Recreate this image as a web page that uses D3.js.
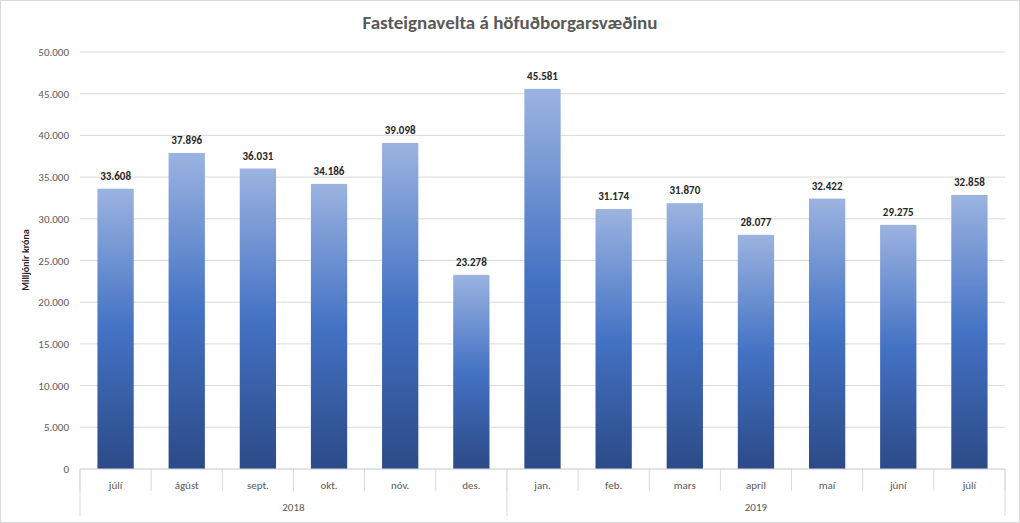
<!DOCTYPE html>
<html><head><meta charset="utf-8">
<script src="https://cdn.jsdelivr.net/npm/d3@7"></script>
<style>body{margin:0;background:#fff;font-family:Calibri,Carlito,"Liberation Sans",sans-serif}</style>
</head><body>
<svg width="1020" height="523"></svg>
<script>
const months = ["júlí","ágúst","sept.","okt.","nóv.","des.","jan.","feb.","mars","apríl","maí","júní","júlí"];
const years = ["2018","2019"];
const yearSpan = [6, 7];
const values = [33608,37896,36031,34186,39098,23278,45581,31174,31870,28077,32422,29275,32858];
const yTicks = d3.range(0, 50001, 5000);

const svg = d3.select("svg");
const mLeft = 80, mRight = 1005, mTop = 52, mBottom = 469;
svg.append("rect").attr("x",0.5).attr("y",0.5).attr("width",1019).attr("height",522)
  .attr("fill","#fff").attr("stroke","#d9d9d9");

const defs = svg.append("defs");
const g = defs.append("linearGradient").attr("id","bg").attr("x1",0).attr("y1",0).attr("x2",0).attr("y2",1);
g.append("stop").attr("offset","0%").attr("stop-color","#9bb3e0");
g.append("stop").attr("offset","50%").attr("stop-color","#4472c4");
g.append("stop").attr("offset","100%").attr("stop-color","#2c4a87");

const x = d3.scaleBand().domain(d3.range(months.length)).range([mLeft, mRight]).paddingInner(0.49).paddingOuter(0.245);
const y = d3.scaleLinear().domain([0, 50000]).range([mBottom, mTop]);
const fmt = v => d3.format(",")(v).replace(/,/g, ".");

svg.append("g").selectAll("line").data(yTicks).join("line")
  .attr("x1", mLeft).attr("x2", mRight).attr("y1", d => y(d)).attr("y2", d => y(d))
  .attr("stroke", "#d9d9d9");
svg.append("g").selectAll("text").data(yTicks).join("text")
  .attr("x", 69).attr("y", d => y(d) + 4).attr("text-anchor","end")
  .attr("font-size", 11).attr("fill","#595959").text(fmt);

svg.append("g").selectAll("rect").data(values).join("rect")
  .attr("x", (d,i) => x(i)).attr("width", x.bandwidth())
  .attr("y", d => y(d)).attr("height", d => mBottom - y(d))
  .attr("fill", "url(#bg)");
svg.append("g").selectAll("text").data(values).join("text")
  .attr("x", (d,i) => x(i) + x.bandwidth()/2).attr("y", d => y(d) - 9)
  .attr("text-anchor","middle").attr("font-size", 11).attr("font-weight","bold")
  .attr("fill","#262626").text(fmt);

// category axis
const step = x.step();
const xs = d3.range(months.length + 1).map(i => mLeft + i * step);
svg.append("line").attr("x1",mLeft).attr("x2",mRight).attr("y1",mBottom).attr("y2",mBottom).attr("stroke","#d9d9d9");
svg.append("g").selectAll("line").data(xs).join("line")
  .attr("x1", d => d).attr("x2", d => d).attr("y1", mBottom).attr("y2", mBottom + 22)
  .attr("stroke","#d9d9d9");
let acc = 0;
const bounds = [0];
yearSpan.forEach(s => { acc += s; bounds.push(acc); });
svg.append("g").selectAll("line").data(bounds).join("line")
  .attr("x1", d => mLeft + d*step).attr("x2", d => mLeft + d*step).attr("y1", mBottom).attr("y2", 516)
  .attr("stroke","#d9d9d9");
svg.append("g").selectAll("text").data(months).join("text")
  .attr("x", (d,i) => x(i) + x.bandwidth()/2).attr("y", 489).attr("text-anchor","middle")
  .attr("font-size", 11).attr("fill","#595959").text(d => d);
svg.append("g").selectAll("text").data(years).join("text")
  .attr("x", (d,i) => mLeft + (bounds[i] + bounds[i+1]) / 2 * step).attr("y", 511)
  .attr("text-anchor","middle").attr("font-size", 11).attr("fill","#595959").text(d => d);

svg.append("text").attr("x", 510).attr("y", 29).attr("text-anchor","middle")
  .attr("font-size", 19).attr("font-weight","bold").attr("fill","#595959")
  .text("Fasteignavelta á höfuðborgarsvæðinu");
svg.append("text").attr("transform","translate(29,260) rotate(-90)").attr("text-anchor","middle")
  .attr("font-size", 10).attr("font-weight","bold").attr("fill","#262626").text("Milljónir króna");
</script>
</body></html>
